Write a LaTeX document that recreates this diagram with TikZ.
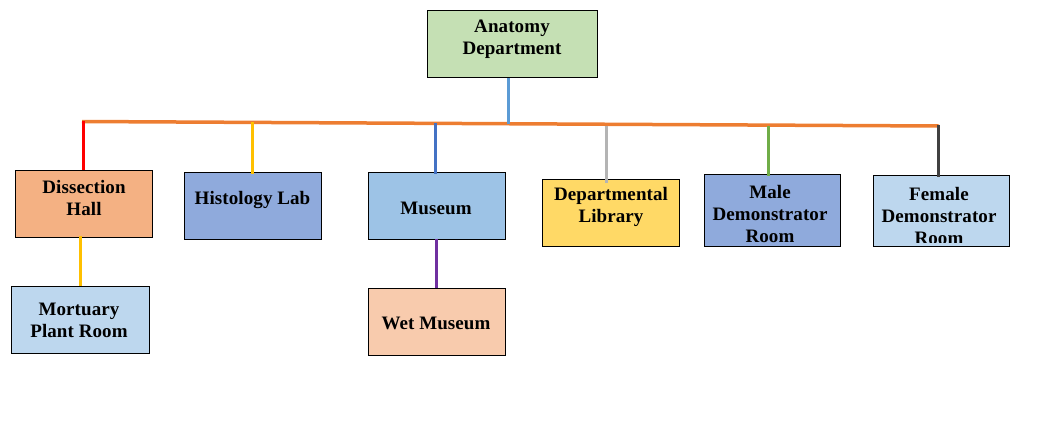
\documentclass[tikz,border=0pt]{standalone}
\usepackage{fontspec}
\setmainfont{Liberation Serif}[LetterSpace=0.5]
\begin{document}
\begin{tikzpicture}[x=1pt,y=-1pt,
  box/.style={draw=black, line width=1pt, rectangle, inner sep=0pt},
  lbl/.style={inner sep=0pt, align=center, font=\fontsize{19pt}{22pt}\selectfont\bfseries},
  conn/.style={line width=3pt}]
\definecolor{cgreen}{HTML}{C5E0B4}
\definecolor{corange}{HTML}{F4B183}
\definecolor{cblue}{HTML}{8FAADC}
\definecolor{cmus}{HTML}{9DC3E6}
\definecolor{clib}{HTML}{FFD966}
\definecolor{clight}{HTML}{BDD7EE}
\definecolor{cwet}{HTML}{F8CBAD}
\definecolor{lorange}{HTML}{ED7D31}
\definecolor{lblue}{HTML}{5B9BD5}
\definecolor{lyellow}{HTML}{FFC000}
\definecolor{ldblue}{HTML}{4472C4}
\definecolor{lgray}{HTML}{B4B4B4}
\definecolor{lgreen}{HTML}{70AD47}
\definecolor{ldark}{HTML}{404040}
\definecolor{lpurple}{HTML}{7030A0}
\useasboundingbox (0,0) rectangle (1055,424);
% boxes
\node[box, fill=cgreen, minimum width=170pt, minimum height=67pt] (ad) at (512,43.5) {};
\node[box, fill=corange, minimum width=137pt, minimum height=67pt] (dh) at (83.5,203.5) {};
\node[box, fill=cblue, minimum width=137pt, minimum height=67pt] (hl) at (252.5,205.5) {};
\node[box, fill=cmus, minimum width=137pt, minimum height=67pt] (mu) at (436.5,205.5) {};
\node[box, fill=clib, minimum width=137pt, minimum height=67pt] (dl) at (610.5,212.5) {};
\node[box, fill=cblue, minimum width=136pt, minimum height=72pt] (mdr) at (772,210) {};
\node[box, fill=clight, minimum width=136pt, minimum height=71pt] (fdr) at (941,210.5) {};
\node[box, fill=clight, minimum width=138pt, minimum height=67pt] (mpr) at (80,319.5) {};
\node[box, fill=cwet, minimum width=137pt, minimum height=67pt] (wm) at (436.5,321.5) {};
% labels
\node[lbl] (ad-t) at (512,39.5) {Anatomy\\Department};
\node[lbl] (dh-t) at (84,198) {Dissection\\Hall};
\node[lbl] (hl-t) at (252.5,200) {Histology Lab};
\node[lbl] (mu-t) at (436,208) {Museum};
\node[lbl] (dl-t) at (611,207) {Departmental\\Library};
\node[lbl] (mdr-t) at (770,214) {Male\\Demonstrator\\Room};
\begin{scope}
  \clip ([yshift=4.5pt]fdr.south west) rectangle (fdr.north east);
  \node[lbl] (fdr-t) at (939,216) {Female\\Demonstrator\\Room};
\end{scope}
\node[lbl] (mpr-t) at (79,320) {Mortuary\\Plant Room};
\node[lbl] (wm-t) at (436,323) {Wet Museum};
% bar
\coordinate (bl) at (82,121.5);
\coordinate (br) at (939,126);
\draw[conn, lorange, line width=3.5pt] (bl) -- (br);
\coordinate (j0) at (508,124);
\coordinate (j1) at (83,121);
\coordinate (j2) at (252,122);
\coordinate (j3) at (435,123);
\coordinate (j4) at (606,125.5);
\coordinate (j5) at (768,125.5);
\coordinate (j6) at (938,125);
\draw[conn, lblue] (j0 |- ad.south) -- (j0);
\draw[conn, red] (j1) -- (j1 |- dh.north);
\draw[conn, lyellow] (j2) -- ([yshift=-2pt]j2 |- hl.north);
\draw[conn, ldblue] (j3) -- ([yshift=-2pt]j3 |- mu.north);
\draw[conn, lgray] (j4) -- ([yshift=-4pt]j4 |- dl.north);
\draw[conn, lgreen] (j5) -- ([yshift=-2pt]j5 |- mdr.north);
\draw[conn, ldark] (j6) -- ([yshift=-2pt]j6 |- fdr.north);
\coordinate (k1) at (80,0);
\coordinate (k2) at (436,0);
\draw[conn, lyellow] ([yshift=2pt]dh.south -| k1) -- (mpr.north -| k1);
\draw[conn, lpurple] ([yshift=1pt]mu.south -| k2) -- (wm.north -| k2);
\end{tikzpicture}
\end{document}
